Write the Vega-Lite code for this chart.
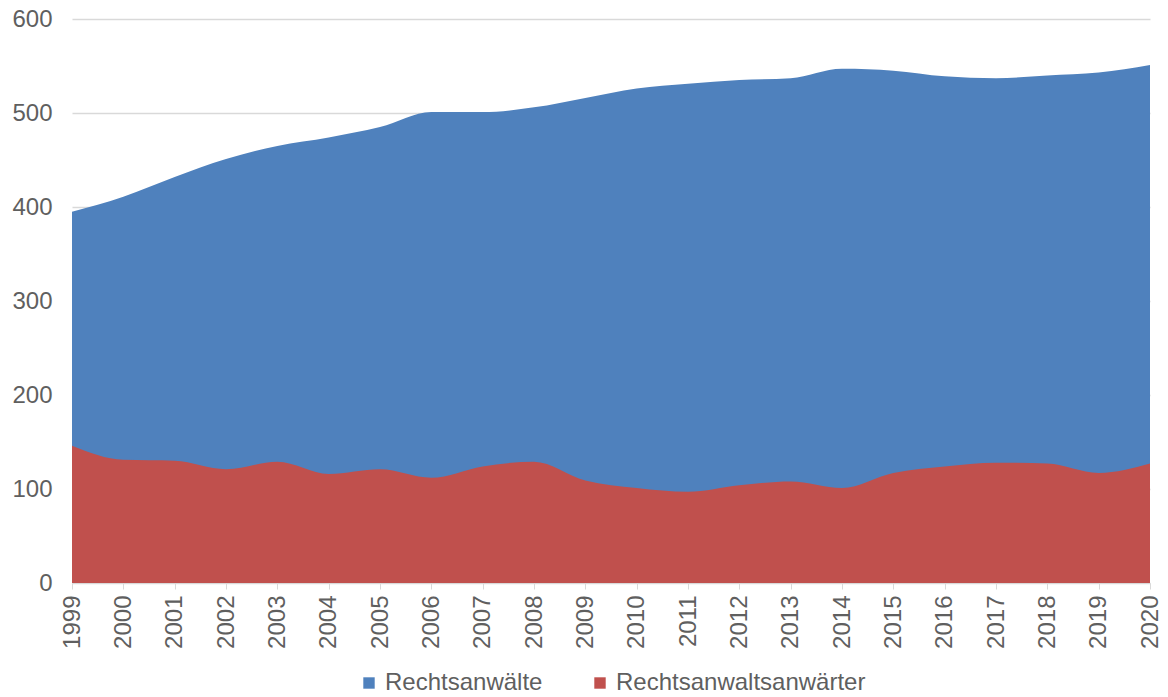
{
  "$schema": "https://vega.github.io/schema/vega-lite/v6.json",
  "width": 1078,
  "height": 564,
  "autosize": {"type": "none"},
  "padding": {"left": 72, "top": 19, "right": 18, "bottom": 114},
  "background": "white",
  "config": {
    "view": {"stroke": null},
    "font": "Liberation Sans",
    "axis": {"labelColor": "#5f5f5f", "labelFont": "Liberation Sans", "labelFontSize": 24},
    "legend": {"layout": {"bottom": {"anchor": "middle"}}}
  },
  "data": {
    "values": [
      {"Jahr": "1999", "Gruppe": "Rechtsanwälte", "Wert": 395},
      {"Jahr": "2000", "Gruppe": "Rechtsanwälte", "Wert": 411},
      {"Jahr": "2001", "Gruppe": "Rechtsanwälte", "Wert": 432},
      {"Jahr": "2002", "Gruppe": "Rechtsanwälte", "Wert": 451},
      {"Jahr": "2003", "Gruppe": "Rechtsanwälte", "Wert": 465},
      {"Jahr": "2004", "Gruppe": "Rechtsanwälte", "Wert": 474},
      {"Jahr": "2005", "Gruppe": "Rechtsanwälte", "Wert": 485},
      {"Jahr": "2006", "Gruppe": "Rechtsanwälte", "Wert": 501},
      {"Jahr": "2007", "Gruppe": "Rechtsanwälte", "Wert": 501},
      {"Jahr": "2008", "Gruppe": "Rechtsanwälte", "Wert": 506},
      {"Jahr": "2009", "Gruppe": "Rechtsanwälte", "Wert": 516},
      {"Jahr": "2010", "Gruppe": "Rechtsanwälte", "Wert": 526},
      {"Jahr": "2011", "Gruppe": "Rechtsanwälte", "Wert": 531},
      {"Jahr": "2012", "Gruppe": "Rechtsanwälte", "Wert": 535},
      {"Jahr": "2013", "Gruppe": "Rechtsanwälte", "Wert": 537},
      {"Jahr": "2014", "Gruppe": "Rechtsanwälte", "Wert": 547},
      {"Jahr": "2015", "Gruppe": "Rechtsanwälte", "Wert": 545},
      {"Jahr": "2016", "Gruppe": "Rechtsanwälte", "Wert": 539},
      {"Jahr": "2017", "Gruppe": "Rechtsanwälte", "Wert": 537},
      {"Jahr": "2018", "Gruppe": "Rechtsanwälte", "Wert": 540},
      {"Jahr": "2019", "Gruppe": "Rechtsanwälte", "Wert": 543},
      {"Jahr": "2020", "Gruppe": "Rechtsanwälte", "Wert": 551},
      {"Jahr": "1999", "Gruppe": "Rechtsanwaltsanwärter", "Wert": 146},
      {"Jahr": "2000", "Gruppe": "Rechtsanwaltsanwärter", "Wert": 131},
      {"Jahr": "2001", "Gruppe": "Rechtsanwaltsanwärter", "Wert": 130},
      {"Jahr": "2002", "Gruppe": "Rechtsanwaltsanwärter", "Wert": 121},
      {"Jahr": "2003", "Gruppe": "Rechtsanwaltsanwärter", "Wert": 129},
      {"Jahr": "2004", "Gruppe": "Rechtsanwaltsanwärter", "Wert": 116},
      {"Jahr": "2005", "Gruppe": "Rechtsanwaltsanwärter", "Wert": 121},
      {"Jahr": "2006", "Gruppe": "Rechtsanwaltsanwärter", "Wert": 112},
      {"Jahr": "2007", "Gruppe": "Rechtsanwaltsanwärter", "Wert": 124},
      {"Jahr": "2008", "Gruppe": "Rechtsanwaltsanwärter", "Wert": 129},
      {"Jahr": "2009", "Gruppe": "Rechtsanwaltsanwärter", "Wert": 109},
      {"Jahr": "2010", "Gruppe": "Rechtsanwaltsanwärter", "Wert": 101},
      {"Jahr": "2011", "Gruppe": "Rechtsanwaltsanwärter", "Wert": 97},
      {"Jahr": "2012", "Gruppe": "Rechtsanwaltsanwärter", "Wert": 104},
      {"Jahr": "2013", "Gruppe": "Rechtsanwaltsanwärter", "Wert": 108},
      {"Jahr": "2014", "Gruppe": "Rechtsanwaltsanwärter", "Wert": 101},
      {"Jahr": "2015", "Gruppe": "Rechtsanwaltsanwärter", "Wert": 117},
      {"Jahr": "2016", "Gruppe": "Rechtsanwaltsanwärter", "Wert": 124},
      {"Jahr": "2017", "Gruppe": "Rechtsanwaltsanwärter", "Wert": 128},
      {"Jahr": "2018", "Gruppe": "Rechtsanwaltsanwärter", "Wert": 127},
      {"Jahr": "2019", "Gruppe": "Rechtsanwaltsanwärter", "Wert": 117},
      {"Jahr": "2020", "Gruppe": "Rechtsanwaltsanwärter", "Wert": 127}
    ]
  },
  "encoding": {
    "x": {
      "field": "Jahr",
      "type": "ordinal",
      "scale": {"type": "point", "padding": 0},
      "axis": {
        "title": null,
        "labelAngle": -90,
        "labelAlign": "right",
        "labelBaseline": "middle",
        "labelPadding": 6,
        "labelFontSize": 24,
        "domainColor": "#d9d9d9",
        "tickColor": "#d9d9d9",
        "tickSize": 6,
        "grid": false
      }
    },
    "y": {
      "field": "Wert",
      "type": "quantitative",
      "stack": null,
      "scale": {"domain": [0, 600]},
      "axis": {
        "title": null,
        "values": [0, 100, 200, 300, 400, 500, 600],
        "domain": false,
        "ticks": false,
        "labelPadding": 20,
        "labelFontSize": 24,
        "gridColor": "#d9d9d9",
        "gridWidth": 1.5
      }
    },
    "color": {
      "field": "Gruppe",
      "type": "nominal",
      "scale": {
        "domain": ["Rechtsanwälte", "Rechtsanwaltsanwärter"],
        "range": ["#4F81BD", "#C0504D"]
      },
      "legend": {
        "title": null,
        "orient": "bottom",
        "direction": "horizontal",
        "symbolType": "square",
        "symbolSize": 130,
        "symbolStrokeWidth": 0,
        "labelFontSize": 24,
        "labelLimit": 400,
        "labelColor": "#5f5f5f",
        "columnPadding": 45,
        "offset": 22
      }
    }
  },
  "layer": [
    {
      "transform": [{"filter": "datum.Gruppe === 'Rechtsanwälte'"}],
      "mark": {"type": "area", "interpolate": "monotone", "opacity": 1}
    },
    {
      "transform": [{"filter": "datum.Gruppe === 'Rechtsanwaltsanwärter'"}],
      "mark": {"type": "area", "interpolate": "monotone", "opacity": 1}
    }
  ]
}
